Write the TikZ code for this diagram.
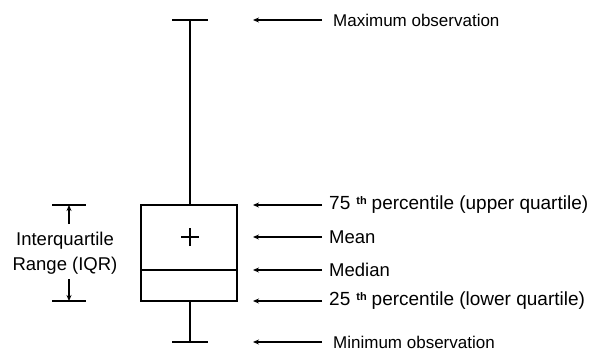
\documentclass[tikz,border=0pt]{standalone}
\usepackage{fontspec}
\setmainfont{Liberation Sans}
\usetikzlibrary{arrows.meta}
\newcommand{\thsup}{\hspace{6pt}\raisebox{5.5pt}{\fontsize{11}{11}\selectfont\bfseries th}\hspace{5pt}}
\begin{document}
\begin{tikzpicture}[x=1pt,y=-1pt,
  line/.style={line width=1.3pt,black},
  lbl/.style={anchor=west,inner sep=0pt,font=\fontsize{18.5}{20}\selectfont},
  lblq/.style={lbl,font=\fontsize{19}{20}\selectfont},
  lblsm/.style={lbl,font=\fontsize{17}{19}\selectfont},
  ptr/.style={line width=1.1pt,-{Stealth[length=6pt,width=5pt]}}]
\useasboundingbox (0,0) rectangle (597,351);
% box and whiskers
\coordinate (tcapL) at (172,20); \coordinate (tcapR) at (208,20); \coordinate (tcap) at (190,20);
\coordinate (bcapL) at (172,342); \coordinate (bcapR) at (208,342); \coordinate (bcap) at (190,342);
\coordinate (boxTL) at (141,205); \coordinate (boxBR) at (237,301);
\coordinate (boxT) at (190,205); \coordinate (boxB) at (190,301);
\coordinate (medL) at (141,270); \coordinate (medR) at (237,270);
\draw[line] (tcapL) -- (tcapR);
\draw[line] (tcap) -- (boxT);
\draw[line] (boxTL) rectangle (boxBR);
\draw[line] (medL) -- (medR);
\draw[line] (boxB) -- (bcap);
\draw[line] (bcapL) -- (bcapR);
\coordinate (mean) at (190,237);
\draw[line width=1.1pt] ([xshift=-9pt]mean) -- ([xshift=9pt]mean) ([yshift=-9pt]mean) -- ([yshift=9pt]mean);
% labels
\node[lblsm] (lmax) at (333,20) {Maximum observation};
\node[lblq] (lq3) at (329,205) {75\thsup percentile (upper quartile)};
\node[lbl] (lmean) at (329,237) {Mean};
\node[lbl] (lmed) at (329,270) {Median};
\node[lblq] (lq1) at (329,301) {25\thsup percentile (lower quartile)};
\node[lblsm] (lmin) at (333,342) {Minimum observation};
\foreach \n/\y in {lmax/20,lq3/205,lmean/237,lmed/270,lq1/301,lmin/342}{
  \coordinate (e\n) at (253,\y);
  \coordinate (s\n) at (322,\y);
  \draw[ptr] (s\n) -- (e\n);
}
% IQR
\coordinate (iqrTL) at (52,205); \coordinate (iqrTR) at (86,205);
\coordinate (iqrBL) at (52,301); \coordinate (iqrBR) at (86,301);
\coordinate (iqrT) at (69,205); \coordinate (iqrB) at (69,301);
\coordinate (iqrTs) at (69,224); \coordinate (iqrBs) at (69,279);
\draw[line width=1.1pt] (iqrTL) -- (iqrTR) (iqrBL) -- (iqrBR);
\draw[ptr] (iqrTs) -- (iqrT);
\draw[ptr] (iqrBs) -- (iqrB);
\node[font=\fontsize{18.5}{25}\selectfont,align=center,inner sep=0pt] (iqr) at (65,253) {Interquartile\\Range (IQR)};
\end{tikzpicture}
\end{document}
